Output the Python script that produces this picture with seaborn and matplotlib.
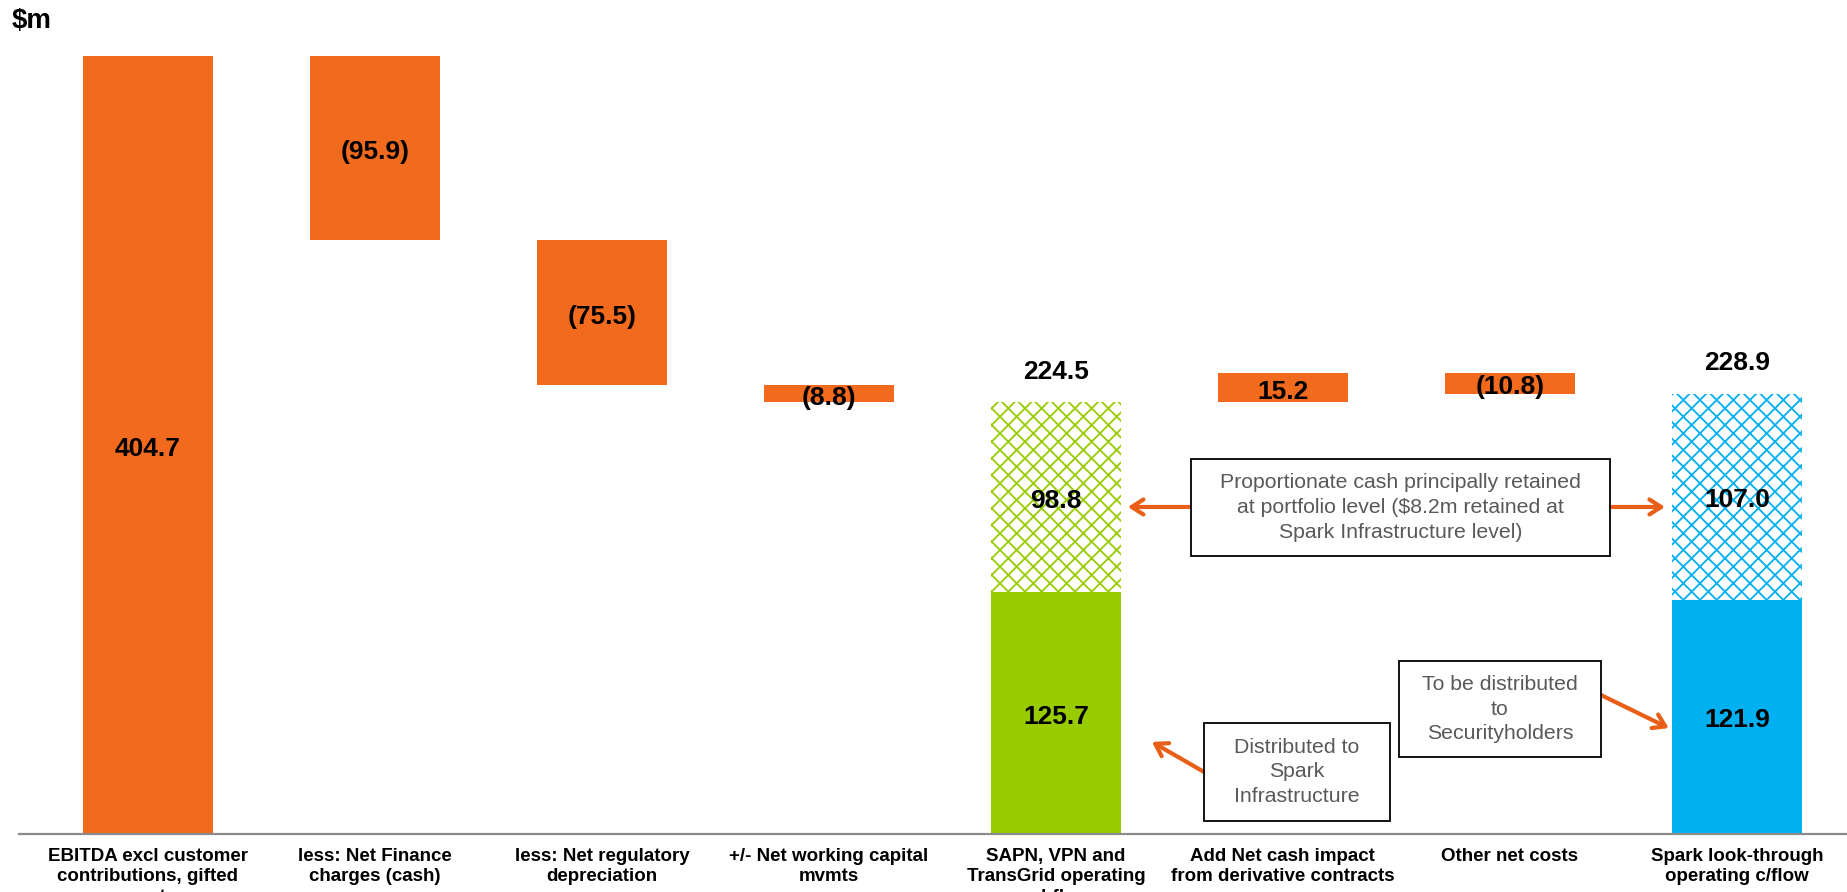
import matplotlib
matplotlib.use("Agg")
import matplotlib.pyplot as plt
import seaborn as sns
import pandas as pd
import numpy as np
from matplotlib.patches import Rectangle

# ---------------- data ----------------
categories = [
    "EBITDA excl customer\ncontributions, gifted\nassets",
    "less: Net Finance\ncharges (cash)",
    "less: Net regulatory\ndepreciation",
    "+/- Net working capital\nmvmts",
    "SAPN, VPN and\nTransGrid operating\ncashflows",
    "Add Net cash impact\nfrom derivative contracts",
    "Other net costs",
    "Spark look-through\noperating c/flow",
]
bar_kind = ["start", "delta", "delta", "delta", "total", "delta", "delta", "total"]
values = [404.7, -95.9, -75.5, -8.8, 224.5, 15.2, -10.8, 228.9]
distributed = [0, 0, 0, 0, 125.7, 0, 0, 121.9]
retained = [0, 0, 0, 0, 98.8, 0, 0, 107.0]
unit_label = "$m"
box_retained_text = ("Proportionate cash principally retained\n"
                     "at portfolio level ($8.2m retained at\n"
                     "Spark Infrastructure level)")
box_spark_text = "Distributed to\nSpark\nInfrastructure"
box_holders_text = "To be distributed\nto\nSecurityholders"

# ---------------- styling ----------------
ORANGE = "#F26A1E"
ARROW = "#EA5F17"
GREEN = "#99CC00"
BLUE = "#00B0F0"
TEXT_GREY = "#595959"

sns.set_theme(style="white")
plt.rcParams["font.family"] = ["Liberation Sans", "DejaVu Sans"]
plt.rcParams["hatch.linewidth"] = 1.3

# ---------------- waterfall geometry ----------------
heights, bottoms, upper_h, upper_b, label_text, label_y = [], [], [], [], [], []
level = 0.0
for kind, v, d, r in zip(bar_kind, values, distributed, retained):
    if kind == "start":
        bottoms.append(0.0); heights.append(v)
        upper_b.append(0.0); upper_h.append(0.0)
        level = v
        label_text.append(f"{v:.1f}"); label_y.append(v / 2)
    elif kind == "delta":
        lo = min(level, level + v)
        bottoms.append(lo); heights.append(abs(v))
        upper_b.append(0.0); upper_h.append(0.0)
        label_text.append(f"({abs(v):.1f})" if v < 0 else f"{v:.1f}")
        label_y.append(lo + abs(v) / 2)
        level += v
    else:
        bottoms.append(0.0); heights.append(d)
        upper_b.append(d); upper_h.append(r)
        label_text.append(f"{v:.1f}"); label_y.append(v)
        level = v

df = pd.DataFrame({"cat": categories, "height": heights, "bottom": bottoms,
                   "upper": upper_h, "upper_bottom": upper_b})

fig = plt.figure(figsize=(18.47, 8.92), dpi=100)
ax = fig.add_axes([19 / 1847, 58 / 892, 1 - 19 / 1847, 814 / 892])

sns.barplot(data=df, x="cat", y="height", order=categories, bottom=df["bottom"].values,
            width=0.573, color=ORANGE, errorbar=None, ax=ax, linewidth=0, saturation=1)
n_main = len(ax.patches)
sns.barplot(data=df, x="cat", y="upper", order=categories, bottom=df["upper_bottom"].values,
            width=0.573, color="white", errorbar=None, ax=ax, linewidth=0, saturation=1)

main_patches = ax.patches[:n_main]
upper_patches = ax.patches[n_main:]
total_colors = {4: GREEN, 7: BLUE}
for i, p in enumerate(main_patches):
    p.set_facecolor(total_colors.get(i, ORANGE))
    p.set_linewidth(0)
for i, p in enumerate(upper_patches):
    if i in total_colors:
        p.set_facecolor("white")
        p.set_edgecolor(total_colors[i])
        p.set_hatch("xx")
        p.set_linewidth(0)
    else:
        p.set_visible(False)

# ---------------- labels ----------------
lab_kw = dict(ha="center", va="center", fontsize=19, fontweight="bold", color="black",
              textcoords="offset points")
for i, kind in enumerate(bar_kind):
    if kind == "total":
        ax.annotate(f"{values[i]:.1f}", (i, values[i] + 16), xytext=(0, 0), **lab_kw)
        ax.annotate(f"{distributed[i]:.1f}", (i, distributed[i] / 2), xytext=(0, -2.5), **lab_kw)
        ax.annotate(f"{retained[i]:.1f}", (i, distributed[i] + retained[i] / 2),
                    xytext=(0, -2.5), **lab_kw)
    else:
        ax.annotate(label_text[i], (i, label_y[i]), xytext=(0, -2.8), **lab_kw)

# ---------------- axes ----------------
ax.set_xlim(-0.568, 7.485)
ax.set_ylim(0, 423.4)
ax.set_xlabel(""); ax.set_ylabel("")
ax.set_yticks([])
for s in ["left", "top", "right"]:
    ax.spines[s].set_visible(False)
ax.spines["bottom"].set_color("#8C8C8C")
ax.spines["bottom"].set_linewidth(1.6)
ax.set_xticks(range(len(categories)))
ax.set_xticklabels(categories, fontsize=13.5, fontweight="bold", color="black",
                   linespacing=1.26, va="top")
ax.tick_params(axis="x", length=0, pad=10)

fig.text(12 / 1847, 1 - 8 / 892, unit_label, ha="left", va="top",
         fontsize=20, fontweight="bold", color="black")

# ---------------- annotation boxes ----------------
def box(x0, x1, y0, y1, text):
    ax.add_patch(Rectangle((x0, y0), x1 - x0, y1 - y0, facecolor="white",
                           edgecolor="black", linewidth=1.3, zorder=5))
    ax.text((x0 + x1) / 2, (y0 + y1) / 2, text, ha="center", va="center",
            fontsize=15.3, color=TEXT_GREY, linespacing=1.38, zorder=6)

box(4.595, 6.441, 144.6, 195.1, box_retained_text)
box(4.652, 5.472, 6.8, 57.7, box_spark_text)
box(5.511, 6.401, 40.0, 90.0, box_holders_text)

arrow_kw = dict(arrowstyle="->,head_length=0.7,head_width=0.45", lw=3, color=ARROW,
                shrinkA=0, shrinkB=0)
ax.annotate("", xy=(4.317, 170.1), xytext=(4.595, 170.1), arrowprops=arrow_kw, zorder=4)
ax.annotate("", xy=(6.683, 170.1), xytext=(6.441, 170.1), arrowprops=arrow_kw, zorder=4)
ax.annotate("", xy=(4.423, 47.9), xytext=(4.652, 32.3), arrowprops=arrow_kw, zorder=4)
ax.annotate("", xy=(6.700, 55.1), xytext=(6.401, 72.3), arrowprops=arrow_kw, zorder=4)

fig.savefig("out.png", dpi=100)
